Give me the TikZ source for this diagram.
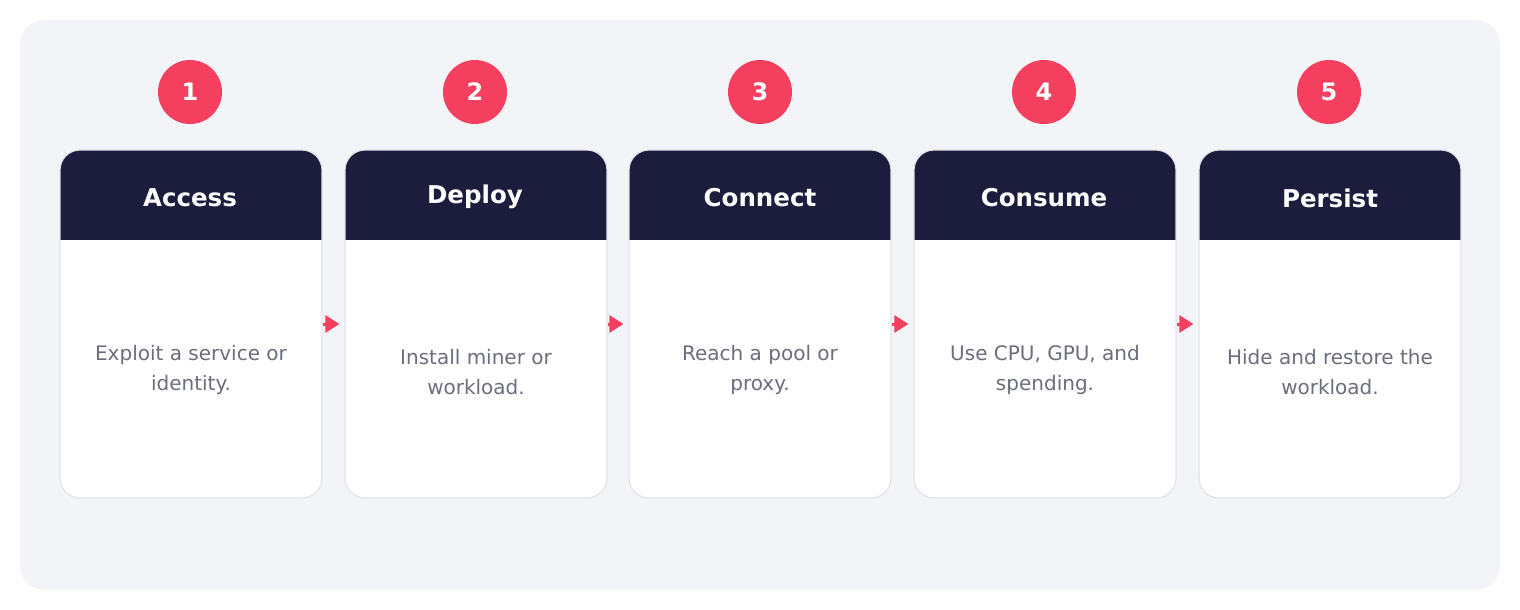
\documentclass[tikz,border=0pt]{standalone}
\usepackage{fontspec}
\setmainfont{DejaVu Sans}
\usetikzlibrary{arrows.meta}
\definecolor{panelgray}{HTML}{F3F4F8}
\definecolor{headnavy}{HTML}{1C1C3D}
\definecolor{steprose}{HTML}{F43F5E}
\definecolor{cardline}{HTML}{E1E3E9}
\definecolor{bodygray}{HTML}{6B6E7B}
\tikzset{
  panel/.style={fill=panelgray,rounded corners=24pt,minimum width=1480pt,minimum height=570pt},
  card/.style={fill=white,draw=cardline,line width=1.2pt,rounded corners=20pt,
    minimum width=262pt,minimum height=348pt,
    path picture={\fill[headnavy,sharp corners] (path picture bounding box.north west) rectangle ([yshift=-90pt]path picture bounding box.north east);}},
  head/.style={text=white,font=\fontsize{24.5}{28}\selectfont\bfseries},
  body/.style={text=bodygray,align=center,font=\fontsize{20}{30}\selectfont},
  badge/.style={circle,fill=steprose,text=white,minimum size=64pt,inner sep=0pt,font=\fontsize{24}{28}\selectfont\bfseries},
  flow/.style={steprose,line width=3pt,-{Triangle[length=14pt,width=17pt]},shorten >=5pt},
}
\begin{document}
\begin{tikzpicture}[x=1pt,y=-1pt]
\useasboundingbox (0,0) rectangle (1520,610);
%%
\node (panel) at (760,305) [panel] {};
\node (card_1) at (191,324) [card] {};
  \node (card_2) at (476,324) [card] {};
  \node (card_3) at (760,324) [card] {};
  \node (card_4) at (1045,324) [card] {};
  \node (card_5) at (1330,324) [card] {};
\node (step_1) at (190,92) [badge] {1};
  \node (step_2) at (475,92) [badge] {2};
  \node (step_3) at (760,92) [badge] {3};
  \node (step_4) at (1044,92) [badge] {4};
  \node (step_5) at (1329,92) [badge] {5};
\node (head_1) at (190,198) [head] {Access};
  \node (head_2) at (475,197) [head] {Deploy};
  \node (head_3) at (760,198) [head] {Connect};
  \node (head_4) at (1044,198) [head] {Consume};
  \node (head_5) at (1330,198) [head] {Persist};
\node (text_1) at (191,370) [body] {Exploit a service or\\identity.};
  \node (text_2) at (476,372) [body] {Install miner or\\workload.};
  \node (text_3) at (760,370) [body] {Reach a pool or\\proxy.};
  \node (text_4) at (1045,370) [body] {Use CPU, GPU, and\\spending.};
  \node (text_5) at (1330,372) [body] {Hide and restore the\\workload.};
  \draw [flow] (card_1) -- (card_2);
  \draw [flow] (card_2) -- (card_3);
  \draw [flow] (card_3) -- (card_4);
  \draw [flow] (card_4) -- (card_5);
%
\end{tikzpicture}
\end{document}
